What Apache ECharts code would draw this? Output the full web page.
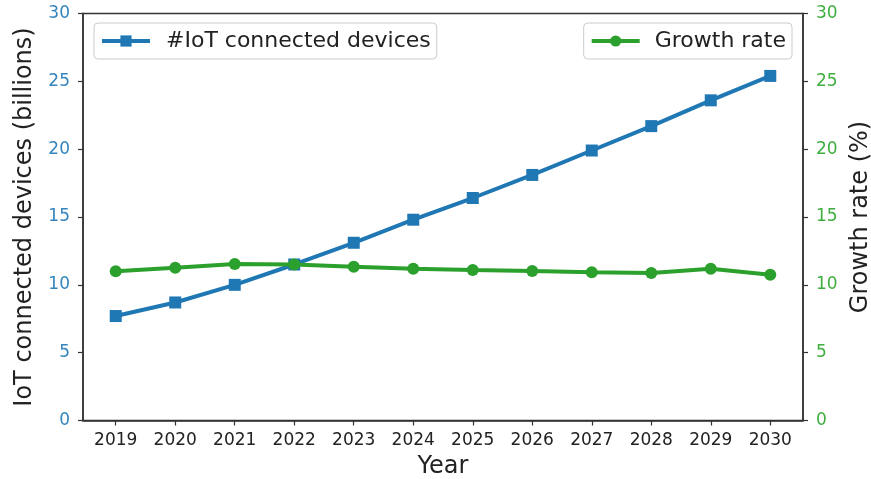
<!DOCTYPE html>
<html>
<head>
<meta charset="utf-8">
<script src="https://cdn.jsdelivr.net/npm/echarts@6/dist/echarts.min.js"></script>
<style>
  html, body { margin: 0; padding: 0; background: #ffffff; }
  #chart { width: 871px; height: 479px; }
</style>
</head>
<body>
<div id="chart"></div>
<script>
// Years on the horizontal axis
const years = [2019, 2020, 2021, 2022, 2023, 2024, 2025, 2026, 2027, 2028, 2029, 2030];
// Connected IoT devices, billions (left axis)
const devices = [7.7, 8.7, 10.0, 11.5, 13.1, 14.8, 16.4, 18.1, 19.9, 21.7, 23.6, 25.4];
// Year-over-year growth rate, % (right axis)
const growthRate = [11.0, 11.26, 11.53, 11.5, 11.33, 11.19, 11.09, 11.02, 10.92, 10.87, 11.19, 10.74];

const BLUE = '#1f77b4';
const GREEN = '#2ca02c';
const FONT = 'DejaVu Sans';
const AXIS_COLOR = '#333333';

const chart = echarts.init(document.getElementById('chart'), null, { renderer: 'canvas' });

const axisLineStyle = { show: true, lineStyle: { color: AXIS_COLOR, width: 1.5 } };
const axisTickStyle = { show: true, inside: false, length: 5, lineStyle: { color: AXIS_COLOR, width: 1.2 } };

const legendBase = {
  top: 23,
  padding: [5, 6, 5, 6],
  itemWidth: 48, itemHeight: 14,
  borderColor: '#cccccc', borderWidth: 1, borderRadius: 4,
  backgroundColor: 'rgba(255,255,255,0.8)',
  lineStyle: { width: 4 }
};

chart.setOption({
  animation: false,
  backgroundColor: '#ffffff',
  textStyle: { fontFamily: FONT },
  grid: {
    left: 83, right: 68, top: 13.5, bottom: 58.5,
    outerBoundsMode: 'none',
    containLabel: false,
    show: true, borderColor: AXIS_COLOR, borderWidth: 1.5, backgroundColor: 'transparent'
  },
  legend: [
    Object.assign({}, legendBase, {
      data: ['#IoT connected devices'],
      left: 94,
      textStyle: { fontFamily: FONT, fontSize: 22, color: '#222222', padding: [0, 0, 0, 11], lineHeight: 26 }
    }),
    Object.assign({}, legendBase, {
      data: ['Growth rate'],
      right: 79,
      textStyle: { fontFamily: FONT, fontSize: 22, color: '#222222', padding: [0, 0, 0, 10], lineHeight: 26 }
    })
  ],
  xAxis: {
    type: 'value',
    min: 2018.45, max: 2030.55,
    name: 'Year',
    nameLocation: 'middle',
    nameGap: 34,
    nameTextStyle: { fontFamily: FONT, fontSize: 24, color: '#222222' },
    axisLine: axisLineStyle,
    axisTick: Object.assign({}, axisTickStyle, { customValues: years }),
    axisLabel: {
      customValues: years,
      fontFamily: FONT, fontSize: 17, color: '#222222', margin: 12,
      formatter: v => String(Math.round(v))
    },
    splitLine: { show: false }
  },
  yAxis: [
    {
      type: 'value',
      position: 'left',
      min: 0, max: 30, interval: 5,
      name: 'IoT connected devices (billions)',
      nameLocation: 'middle',
      nameGap: 46,
      nameTextStyle: { fontFamily: FONT, fontSize: 24, color: '#222222' },
      axisLine: axisLineStyle,
      axisTick: axisTickStyle,
      axisLabel: { fontFamily: FONT, fontSize: 17, color: '#3385bd', margin: 13 },
      splitLine: { show: false }
    },
    {
      type: 'value',
      position: 'right',
      min: 0, max: 30, interval: 5,
      name: 'Growth rate (%)',
      nameLocation: 'middle',
      nameGap: 36,
      nameRotate: 90,
      nameTextStyle: { fontFamily: FONT, fontSize: 24, color: '#222222' },
      axisLine: axisLineStyle,
      axisTick: axisTickStyle,
      axisLabel: { fontFamily: FONT, fontSize: 17, color: '#3fae3f', margin: 13 },
      splitLine: { show: false }
    }
  ],
  series: [
    {
      name: '#IoT connected devices',
      type: 'line',
      yAxisIndex: 0,
      data: years.map((y, i) => [y, devices[i]]),
      symbol: 'rect',
      symbolSize: 12,
      showAllSymbol: true,
      lineStyle: { color: BLUE, width: 4 },
      itemStyle: { color: BLUE },
      z: 2
    },
    {
      name: 'Growth rate',
      type: 'line',
      yAxisIndex: 1,
      data: years.map((y, i) => [y, growthRate[i]]),
      symbol: 'circle',
      symbolSize: 12,
      showAllSymbol: true,
      lineStyle: { color: GREEN, width: 4 },
      itemStyle: { color: GREEN },
      z: 3
    }
  ]
});
</script>
</body>
</html>
